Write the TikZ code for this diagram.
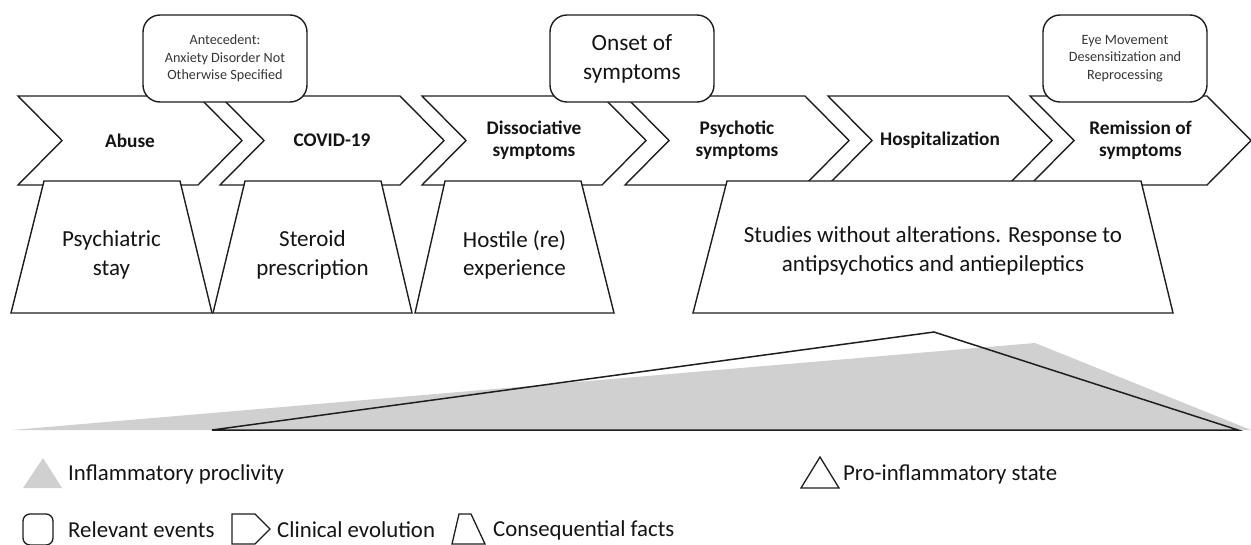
\documentclass[tikz,border=0pt]{standalone}
\usepackage{fontspec}
\setmainfont{Carlito}
\definecolor{lineC}{RGB}{30,30,30}
\definecolor{grayF}{RGB}{208,208,208}
\definecolor{txtC}{RGB}{20,20,20}
\tikzset{
  shapeline/.style={draw=lineC, line width=1.4pt, line join=miter, fill=white},
  chevtext/.style={font=\fontsize{19.3}{22}\selectfont\bfseries, align=center, text=txtC, inner sep=0pt},
  traptext/.style={font=\fontsize{23}{28.5}\selectfont, align=center, text=txtC, inner sep=0pt},
  evtsmall/.style={font=\fontsize{14.2}{17.5}\selectfont, align=center, text=txtC!85, inner sep=0pt},
  evtbig/.style={font=\fontsize{23.3}{29}\selectfont, align=center, text=txtC, inner sep=0pt},
  legtext/.style={font=\fontsize{22.8}{26}\selectfont, anchor=west, text=txtC, inner sep=0pt},
  evtbox/.style={shapeline, rounded corners=17pt},
  legline/.style={draw=lineC, line width=1.3pt, line join=miter},
}
\newcommand{\mychev}[4]{% #1 left x, #2 body width, #3 name, #4 text
  \draw[shapeline] (#1,96) -- ++(#2,0) -- ++(44,44.5) -- ++(-44,44.5) -- ++(-#2,0) -- ++(44,-44.5) -- cycle;
  \node[chevtext] (#3) at ({#1+(#2+44)/2},140.5) {#4};
}
\begin{document}
\begin{tikzpicture}[x=1pt,y=-1pt]
\clip (0,0) rectangle (1251,544);
\fill[white] (0,0) rectangle (1251,544);
% chevrons
\mychev{18}{180}{abuse}{Abuse}
\mychev{220}{180}{covid}{COVID-19}
\mychev{422}{180}{dissoc}{Dissociative\\symptoms}
\mychev{625}{180}{psych}{Psychotic\\symptoms}
\mychev{828}{180}{hosp}{Hospitalization}
\mychev{1030}{177}{remis}{Remission of\\symptoms}
% trapezoids
\draw[shapeline] (44,181) -- (180,181) -- (212,313) -- (11,313) -- cycle;
\node[traptext] (stay) at (111.5,255) {Psychiatric\\stay};
\draw[shapeline] (245,181) -- (381,181) -- (412,313) -- (213,313) -- cycle;
\node[traptext] (steroid) at (312.5,255) {Steroid\\prescription};
\draw[shapeline] (445,181) -- (581,181) -- (614,313) -- (415,313) -- cycle;
\node[traptext] (hostile) at (514.5,255) {Hostile (re)\\experience};
\draw[shapeline] (727,181) -- (1141,181) -- (1173,313) -- (693,313) -- cycle;
\node[traptext] (studies) at (933,251) {Studies without alterations. Response to\\antipsychotics and antiepileptics};
% relevant events
\draw[evtbox] (143,15) rectangle (307,102);
\node[evtsmall] (antec) at (225,58.5) {Antecedent:\\Anxiety Disorder Not\\Otherwise Specified};
\draw[evtbox] (550,15) rectangle (714,102);
\node[evtbig] (onset) at (632,58.5) {Onset of\\symptoms};
\draw[evtbox] (1043,15) rectangle (1207,102);
\node[evtsmall] (emdr) at (1125,58.5) {Eye Movement\\Desensitization and\\Reprocessing};
% inflammation triangles
\fill[grayF] (12,430) -- (1035,343) -- (1251,430) -- cycle;
\draw[legline, line width=1.5pt] (212,430) -- (934,332) -- (1238,430) -- cycle;
% legend
\fill[grayF] (23,488) -- (43,458) -- (62,488) -- cycle;
\node[legtext] (lgA) at (68,474) {Inflammatory proclivity};
\draw[legline] (801,488) -- (820,457) -- (839,488) -- cycle;
\node[legtext] (lgB) at (843,474) {Pro-inflammatory state};
\draw[legline, rounded corners=7pt] (23,514) rectangle (53,545);
\node[legtext] (lgC) at (68,530) {Relevant events};
\draw[legline] (232,544) -- (232,514) -- (255,514) -- (270,529) -- (255,544) -- cycle;
\node[legtext] (lgD) at (277,530) {Clinical evolution};
\draw[legline] (452,544) -- (459,514) -- (471,514) -- (485,544) -- cycle;
\node[legtext] (lgE) at (493,530) {Consequential facts};
\end{tikzpicture}
\end{document}
